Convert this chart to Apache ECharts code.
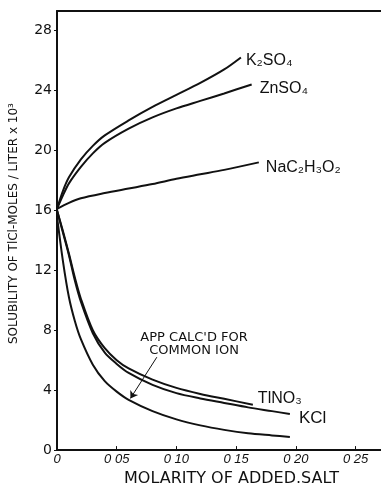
<!DOCTYPE html>
<html><head><meta charset="utf-8">
<script src="https://cdn.jsdelivr.net/npm/echarts@6/dist/echarts.min.js"></script>
<style>html,body{margin:0;padding:0;background:#fff}#c{width:381px;height:492px}</style>
</head><body><div id="c"></div>
<script>
// ---- data ----
const xTickValues = [0, 0.05, 0.10, 0.15, 0.20, 0.25];
const xTickLabels = ['0', '0 05', '0 10', '0 15', '0 20', '0 25'];
const yTickValues = [0, 4, 8, 12, 16, 20, 24, 28];

const k2so4 = [[0,16.1],[0.005,17.3],[0.01,18.2],[0.02,19.4],[0.03,20.3],[0.04,21.0],[0.06,22.0],[0.08,22.9],[0.10,23.7],[0.12,24.5],[0.14,25.4],[0.154,26.2]];
const znso4 = [[0,16.1],[0.005,17.0],[0.01,17.8],[0.02,18.9],[0.03,19.8],[0.04,20.5],[0.06,21.45],[0.08,22.2],[0.10,22.8],[0.12,23.3],[0.14,23.8],[0.163,24.4]];
const nac2h3o2 = [[0,16.1],[0.01,16.5],[0.02,16.8],[0.04,17.15],[0.06,17.45],[0.08,17.75],[0.10,18.1],[0.12,18.4],[0.14,18.7],[0.169,19.2]];
const tlno3 = [[0,16.0],[0.005,14.6],[0.01,13.1],[0.015,11.5],[0.02,10.1],[0.03,8.0],[0.04,6.8],[0.05,6.0],[0.06,5.45],[0.08,4.7],[0.10,4.15],[0.12,3.75],[0.14,3.42],[0.164,3.03]];
const kcl = [[0,16.0],[0.005,14.5],[0.01,13.0],[0.015,11.3],[0.02,9.9],[0.03,7.8],[0.04,6.5],[0.05,5.75],[0.06,5.15],[0.08,4.35],[0.10,3.8],[0.12,3.45],[0.14,3.15],[0.16,2.85],[0.18,2.6],[0.195,2.41]];
const calcCommonIon = [[0,15.6],[0.005,12.6],[0.01,10.2],[0.015,8.6],[0.02,7.4],[0.03,5.7],[0.04,4.6],[0.05,3.9],[0.06,3.35],[0.08,2.6],[0.10,2.05],[0.12,1.65],[0.14,1.35],[0.16,1.12],[0.18,0.98],[0.195,0.88]];

const seriesNames = ['K₂SO₄', 'ZnSO₄', 'NaC₂H₃O₂', 'TlNO₃', 'KCl', ''];
const annotationText = "APP CALC'D FOR\nCOMMON ION";
const annotationPos = [0.1148, 7.08];
const arrowFrom = [0.0836, 6.2];
const arrowTo = [0.0615, 3.45];

// ---- chart ----
const ink = '#111';
const chart = echarts.init(document.getElementById('c'), null, {renderer: 'canvas'});

function lineSeries(name, data, labelOpt) {
  return {
    type: 'line', name: name, data: data, smooth: 0.3,
    symbol: 'none', lineStyle: {color: ink, width: 2}, silent: true,
    endLabel: Object.assign({show: !!name, formatter: name, color: ink,
      fontFamily: 'Liberation Sans', fontSize: 16}, labelOpt || {})
  };
}

const calcSeries = lineSeries('', calcCommonIon);
calcSeries.markPoint = {
  symbol: 'circle', symbolSize: 0, silent: true,
  data: [{coord: annotationPos, label: {show: true, formatter: annotationText, color: ink,
    fontFamily: 'DejaVu Sans', fontSize: 13, lineHeight: 13, align: 'center', verticalAlign: 'middle', position: 'inside'}}]
};
calcSeries.markLine = {
  silent: true, symbol: ['none', 'arrow'], symbolSize: 7,
  lineStyle: {color: ink, width: 1, type: 'solid'}, label: {show: false},
  data: [[{coord: arrowFrom}, {coord: arrowTo}]]
};

function xLabel(v) {
  for (let i = 0; i < xTickValues.length; i++) if (Math.abs(v - xTickValues[i]) < 1e-6) return xTickLabels[i];
  return '';
}

chart.setOption({
  animation: false,
  backgroundColor: '#fff',
  grid: {left: 50, right: 0, top: 11, bottom: 36, containLabel: false},
  xAxis: [{
    type: 'value', min: 0, max: 0.2713, interval: 0.05, position: 'bottom',
    axisLine: {show: true, lineStyle: {color: ink, width: 2}},
    axisTick: {show: true, inside: true, length: 4, lineStyle: {color: ink, width: 1}},
    axisLabel: {formatter: xLabel, color: ink, fontFamily: 'Liberation Sans', fontStyle: 'italic', fontSize: 13, margin: 3, showMaxLabel: false},
    splitLine: {show: false},
    name: 'MOLARITY OF ADDED.SALT', nameLocation: 'middle', nameGap: 18,
    nameTextStyle: {color: ink, fontFamily: 'DejaVu Sans', fontSize: 16, padding: [0, 0, 0, 25]}
  }, {
    type: 'value', min: 0, max: 0.2713, position: 'top',
    axisLine: {show: true, lineStyle: {color: ink, width: 2}},
    axisTick: {show: false}, axisLabel: {show: false}, splitLine: {show: false}
  }],
  yAxis: {
    type: 'value', min: 0, max: 29.3, interval: 4,
    axisLine: {show: true, lineStyle: {color: ink, width: 2}},
    axisTick: {show: true, inside: false, length: 3, lineStyle: {color: ink, width: 1}},
    axisLabel: {color: ink, fontFamily: 'DejaVu Sans', fontSize: 14, margin: 5, showMaxLabel: false,
      formatter: v => yTickValues.indexOf(v) >= 0 ? String(v) : ''},
    splitLine: {show: false},
    name: 'SOLUBILITY OF TlCl-MOLES / LITER x 10³', nameLocation: 'middle', nameGap: 37, nameRotate: 90,
    nameTextStyle: {color: ink, fontFamily: 'DejaVu Sans', fontSize: 12, padding: [0, 0, 0, 14]}
  },
  series: [
    lineSeries(seriesNames[0], k2so4, {distance: 5, offset: [0, 3]}),
    lineSeries(seriesNames[1], znso4, {distance: 8, offset: [0, 4]}),
    lineSeries(seriesNames[2], nac2h3o2, {distance: 7, offset: [0, 5]}),
    lineSeries(seriesNames[3], tlno3, {distance: 5, offset: [0, -6]}),
    lineSeries(seriesNames[4], kcl, {distance: 9, offset: [0, 4], fontSize: 17}),
    calcSeries
  ]
});
</script></body></html>
